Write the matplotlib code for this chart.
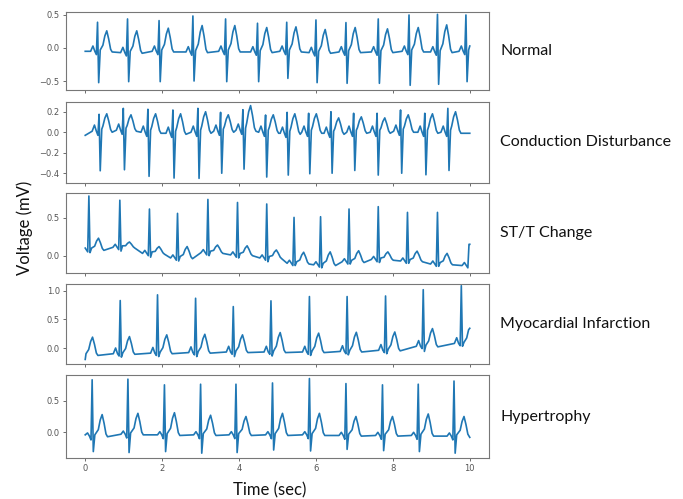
import matplotlib
matplotlib.use("Agg")
import matplotlib.pyplot as plt

# ---------------- data ----------------
labels = ["Normal", "Conduction Disturbance", "ST/T Change",
          "Myocardial Infarction", "Hypertrophy"]

# Normal
n_r_t = [0.32, 1.10, 1.92, 2.80, 3.65, 4.48, 5.24, 6.00, 6.78, 7.62, 8.42, 9.16, 9.90]
n_r_a = [0.39, 0.44, 0.415, 0.485, 0.44, 0.375, 0.39, 0.425, 0.385, 0.44, 0.50, 0.51, 0.50]
n_s_a = [-0.525, -0.51, -0.51, -0.50, -0.51, -0.51, -0.46, -0.525, -0.535, -0.535, -0.565, -0.55, -0.51]
n_t_a = [0.26, 0.26, 0.30, 0.34, 0.34, 0.31, 0.32, 0.28, 0.31, 0.29, 0.31, 0.35, 0.30]
n_base = [-0.05, -0.07, -0.05, -0.06, -0.05, -0.06, -0.05, -0.07, -0.06, -0.06, -0.05, -0.06, -0.05]

# Conduction disturbance
c_r_t = [0.36, 0.99, 1.63, 2.28, 2.93, 3.52, 4.10, 4.69, 5.25, 5.81, 6.39, 6.98, 7.59, 8.20, 8.83, 9.43]
c_r_a = [0.175, 0.233, 0.224, 0.217, 0.233, 0.194, 0.22, 0.168, 0.194, 0.185, 0.20, 0.185, 0.185, 0.217, 0.185, 0.233]
c_s_a = [-0.376, -0.366, -0.43, -0.447, -0.45, -0.40, -0.36, -0.437, -0.418, -0.405, -0.40, -0.373, -0.418, -0.40, -0.415, -0.373]
c_t_a = [0.18, 0.17, 0.18, 0.18, 0.20, 0.17, 0.26, 0.17, 0.18, 0.18, 0.14, 0.15, 0.14, 0.17, 0.18, 0.20]
c_base = [0.01, 0.02, 0.0, -0.01, 0.0, 0.01, 0.02, 0.0, -0.01, 0.0, -0.01, 0.0, 0.0, 0.01, 0.0, 0.0]

# ST/T change
st_r_t = [0.095, 0.90, 1.67, 2.40, 3.19, 3.96, 4.72, 5.43, 6.12, 6.86, 7.62, 8.38, 9.16, 9.98]
st_r_a = [0.785, 0.73, 0.614, 0.557, 0.74, 0.70, 0.68, 0.504, 0.513, 0.614, 0.645, 0.57, 0.57, 0.15]
st_s_a = [0.04, 0.06, -0.02, -0.07, 0.0, -0.03, -0.08, -0.13, -0.16, -0.11, -0.09, -0.10, -0.14, -0.15]
st_t_a = [0.23, 0.18, 0.12, 0.12, 0.14, 0.13, 0.075, 0.045, 0.05, 0.065, 0.05, 0.06, 0.03, 0.0]
st_base = [0.08, 0.11, 0.03, -0.03, 0.04, 0.01, -0.03, -0.10, -0.12, -0.08, -0.05, -0.07, -0.11, -0.13]

# Myocardial infarction
mi_r_t = [-0.05, 0.91, 1.88, 2.87, 3.85, 4.83, 5.83, 6.81, 7.81, 8.79, 9.78]
mi_r_a = [0.90, 0.83, 0.93, 0.87, 0.725, 0.825, 0.90, 0.90, 0.91, 1.02, 1.09]
mi_s_a = [-0.20, -0.16, -0.15, -0.15, -0.15, -0.14, -0.13, -0.12, -0.10, -0.06, 0.03]
mi_t_a = [0.19, 0.20, 0.23, 0.24, 0.23, 0.27, 0.26, 0.275, 0.28, 0.34, 0.40]
mi_base = [-0.12, -0.10, -0.09, -0.08, -0.07, -0.07, -0.07, -0.06, -0.04, 0.03, 0.08]

# Hypertrophy
h_r_t = [0.18, 1.11, 2.06, 3.00, 3.92, 4.87, 5.83, 6.78, 7.73, 8.66, 9.59]
h_r_a = [0.83, 0.84, 0.75, 0.76, 0.76, 0.78, 0.85, 0.77, 0.75, 0.76, 0.81]
h_s_a = [-0.305, -0.32, -0.305, -0.33, -0.32, -0.28, -0.295, -0.27, -0.29, -0.305, -0.33]
h_t_a = [0.28, 0.30, 0.31, 0.27, 0.25, 0.30, 0.30, 0.25, 0.25, 0.29, 0.25]
h_base = [-0.06, -0.03, -0.04, -0.04, -0.04, -0.04, -0.04, -0.05, -0.05, -0.05, -0.06]

# start / end values of each trace
start_vals = [-0.05, -0.03, 0.10, -0.20, -0.04]
end_vals = [0.03, -0.01, 0.15, 0.345, -0.08]

series = [
    (n_r_t, n_r_a, n_s_a, n_t_a, n_base),
    (c_r_t, c_r_a, c_s_a, c_t_a, c_base),
    (st_r_t, st_r_a, st_s_a, st_t_a, st_base),
    (mi_r_t, mi_r_a, mi_s_a, mi_t_a, mi_base),
    (h_r_t, h_r_a, h_s_a, h_t_a, h_base),
]

# ---------------- style / layout ----------------
p_amp = [0.08, 0.06, 0.04, 0.10, 0.05]     # P-wave height above baseline
q_dep = [0.05, 0.04, 0.03, 0.04, 0.06]     # Q dip below baseline
t_off = [0.24, 0.20, 0.25, 0.24, 0.26]     # T-peak delay after R
ylims = [(-0.636, 0.545), (-0.495, 0.295), (-0.228, 0.825), (-0.28, 1.12), (-0.406, 0.906)]
yticks = [[-0.5, 0.0, 0.5], [-0.4, -0.2, 0.0, 0.2], [0.0, 0.5], [0.0, 0.5, 1.0], [0.0, 0.5]]
panels_px = [(12, 90), (102, 183), (193, 273), (284, 364), (375, 458)]
W, H = 683, 499
left_px, right_px = 66, 489


def trace(r_t, r_a, s_a, t_a, base, pa, qd, to, v0, v1):
    ts, vs = [0.0], [v0]
    for i in range(len(r_t)):
        r, b, T = r_t[i], base[i], t_a[i]
        pts = [(-0.18, b), (-0.12, b + pa), (-0.07, b), (-0.03, b - qd),
               (0.0, r_a[i]), (0.03, s_a[i]), (0.07, b + 0.02),
               (to - 0.10, b + 0.3 * (T - b)), (to - 0.05, b + 0.75 * (T - b)),
               (to, T), (to + 0.05, b + 0.6 * (T - b)), (to + 0.10, b + 0.1 * (T - b)),
               (to + 0.14, b - 0.01)]
        for dt, v in pts:
            t = r + dt
            if 0.0 < t < 10.0:
                ts.append(t)
                vs.append(v)
    ts.append(10.0)
    vs.append(v1)
    return ts, vs


fig = plt.figure(figsize=(W / 100, H / 100), dpi=100)
axes = []
for k, (top, bot) in enumerate(panels_px):
    ax = fig.add_axes([left_px / W, 1 - bot / H, (right_px - left_px) / W, (bot - top) / H])
    axes.append(ax)
    ts, vs = trace(*series[k], p_amp[k], q_dep[k], t_off[k], start_vals[k], end_vals[k])
    ax.plot(ts, vs, color="#1f77b4", lw=1.2)
    ax.set_xlim(-0.5, 10.5)
    ax.set_ylim(*ylims[k])
    ax.set_yticks(yticks[k])
    ax.set_xticks([0, 2, 4, 6, 8, 10])
    ax.tick_params(labelsize=6, colors="#555555", length=2.5, width=0.6, pad=2)
    if k < 4:
        ax.tick_params(labelbottom=False)
    for s in ax.spines.values():
        s.set_color("#777777")
        s.set_linewidth(0.8)
    fig.text(500 / W, 1 - ((top + bot) / 2) / H, labels[k], fontsize=11.5, family="Lato",
             ha="left", va="center", color="#111111")

fig.text(25 / W, 1 - 228 / H, "Voltage (mV)", rotation=90, fontsize=12, family="Lato",
         ha="center", va="center", color="#111111")
fig.text(270 / W, 1 - 490 / H, "Time (sec)", fontsize=12, family="Lato",
         ha="center", va="center", color="#111111")

fig.savefig("out.png", dpi=100)
